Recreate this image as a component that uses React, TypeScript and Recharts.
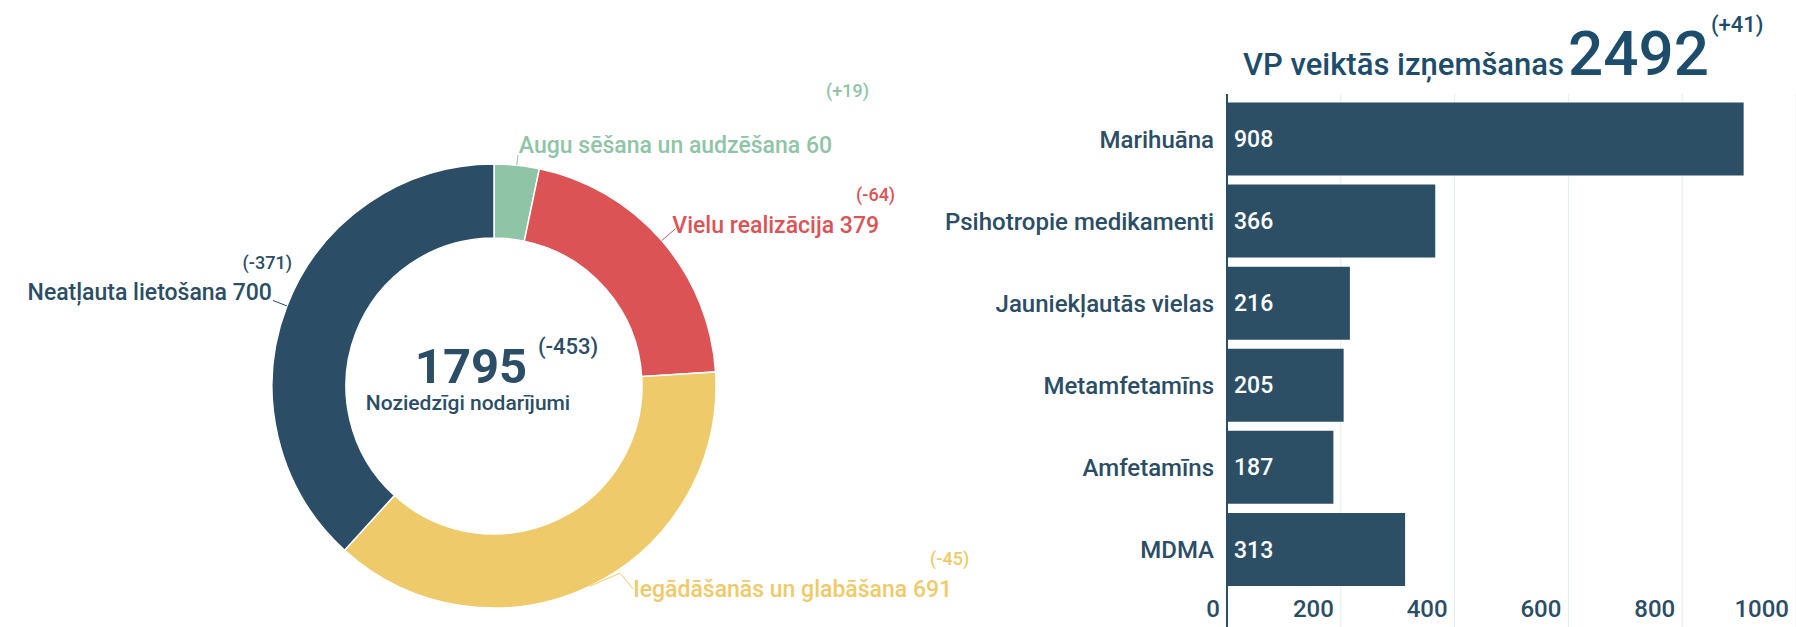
import { PieChart, Pie, Cell, BarChart, Bar, XAxis, YAxis, CartesianGrid, LabelList } from 'recharts';

const FONT = 'Roboto, sans-serif';
const NAVY = '#2b4d65';
const TITLE_BLUE = '#1e4d6b';
const RADIAN = Math.PI / 180;

// donut: offence types, clockwise from the top
const pieNames = ['Augu sēšana un audzēšana', 'Vielu realizācija', 'Iegādāšanās un glabāšana', 'Neatļauta lietošana'];
const pieValues = [60, 379, 691, 700];
const pieChanges = ['(+19)', '(-64)', '(-45)', '(-371)'];
const pieColors = ['#8fc4a6', '#dc5356', '#efca6a', NAVY];
const pieTotal = '1795';
const pieTotalChange = '(-453)';
const pieCaption = 'Noziedzīgi nodarījumi';

// bars: seizures by substance
const barNames = ['Marihuāna', 'Psihotropie medikamenti', 'Jauniekļautās vielas', 'Metamfetamīns', 'Amfetamīns', 'MDMA'];
const barValues = [908, 366, 216, 205, 187, 313];
const xTicks = [0, 200, 400, 600, 800, 1000];
const barTitle = 'VP veiktās izņemšanas';
const barTotal = '2492';
const barTotalChange = '(+41)';

const pieData = pieNames.map((name, i) => ({ name, value: pieValues[i] }));
const barData = barNames.map((name, i) => ({ name, value: barValues[i] }));

// label placement around the donut (radial extension + text nudges)
const LABEL_LAYOUT = [
  { ext: 10, tx: 1, ty: -2, ddx: -6, ddy: -56, kink: false },
  { ext: 18, tx: -3, ty: 4, ddx: -23, ddy: -32, kink: false },
  { ext: 0, tx: 43, ty: 11, ddx: -22, ddy: -32, kink: true },
  { ext: 15, tx: -1, ty: 0, ddx: 20, ddy: -31, kink: false },
];

function PieLabel(props: any) {
  const { cx, cy, midAngle, outerRadius, index } = props;
  const lay = LABEL_LAYOUT[index];
  const cos = Math.cos(-midAngle * RADIAN);
  const sin = Math.sin(-midAngle * RADIAN);
  const x0 = cx + outerRadius * cos;
  const y0 = cy + outerRadius * sin;
  const x1 = cx + (outerRadius + lay.ext) * cos;
  const y1 = cy + (outerRadius + lay.ext) * sin;
  const color = pieColors[index];
  const tx = x1 + lay.tx;
  const ty = y1 + lay.ty;
  const right = cos >= 0;
  const pts = lay.kink
    ? `${x0},${y0} ${x0 + 30},${y0 - 13} ${x0 + 43},${y0 + 3}`
    : `${x0},${y0} ${x1},${y1}`;
  const label = `${pieNames[index]} ${pieValues[index]}`;

  return (
    <g>
      <polyline points={pts} fill="none" stroke={color} strokeWidth={1} />
      {right ? (
        <text x={tx} y={ty} fill={color} fontSize={23} fontWeight={500} fontFamily={FONT} textAnchor="start">
          {label}
          <tspan dx={lay.ddx} dy={lay.ddy} fontSize={18}>{pieChanges[index]}</tspan>
        </text>
      ) : (
        <>
          <text x={tx} y={ty} fill={color} fontSize={23} fontWeight={500} fontFamily={FONT} textAnchor="end">
            {label}
          </text>
          <text x={tx + lay.ddx} y={ty + lay.ddy} fill={color} fontSize={18} fontWeight={500} fontFamily={FONT} textAnchor="end">
            {pieChanges[index]}
          </text>
        </>
      )}
    </g>
  );
}

function YTick(props: any) {
  const { x, y, payload } = props;
  return (
    <text x={x - 5} y={y + 9} textAnchor="end" fill={NAVY} fontSize={24} fontWeight={500} fontFamily={FONT}>
      {payload.value}
    </text>
  );
}

function XTick(props: any) {
  const { x, y, payload } = props;
  return (
    <text x={x - 7} y={y - 2} textAnchor="end" fill={NAVY} fontSize={24} fontWeight={500} fontFamily={FONT}>
      {payload.value}
    </text>
  );
}

export default function App() {
  const cx = 489;
  const cy = 381;
  return (
    <div style={{ position: 'relative', width: 1796, height: 627, overflow: 'hidden', background: '#fff', fontFamily: FONT }}>
      <style>{'body{margin:0}'}</style>

      <div style={{ position: 'absolute', left: 0, top: 0 }}>
        <PieChart width={1000} height={627}>
          <Pie
            data={pieData}
            dataKey="value"
            nameKey="name"
            cx={cx}
            cy={cy}
            innerRadius={148}
            outerRadius={222}
            startAngle={90}
            endAngle={-270}
            stroke="#ffffff"
            strokeWidth={1.5}
            label={PieLabel}
            labelLine={false}
            isAnimationActive={false}
          >
            {pieData.map((d, i) => (
              <Cell key={d.name} fill={pieColors[i]} />
            ))}
          </Pie>
        </PieChart>
      </div>

      <div style={{ position: 'absolute', left: 900, top: 0 }}>
        <BarChart
          width={896}
          height={627}
          data={barData}
          layout="vertical"
          margin={{ top: 94, right: 0, bottom: 0, left: 0 }}
        >
          <CartesianGrid horizontal={false} stroke="#e4edf0" />
          <XAxis
            type="number"
            domain={[0, 1000]}
            ticks={xTicks}
            height={30}
            mirror
            axisLine={false}
            tickLine={false}
            tick={<XTick />}
            interval={0}
          />
          <YAxis
            type="category"
            dataKey="name"
            width={327}
            padding={{ top: 3.5, bottom: 37 }}
            axisLine={{ stroke: NAVY, strokeWidth: 2 }}
            tickLine={false}
            tick={<YTick />}
            interval={0}
          />
          <Bar dataKey="value" fill="#2c4f66" barSize={73} isAnimationActive={false}>
            <LabelList
              dataKey="value"
              position="insideLeft"
              offset={7}
              fill="#ffffff"
              fontSize={23}
              fontWeight={500}
              fontFamily={FONT}
            />
          </Bar>
        </BarChart>
      </div>

      <svg width={1796} height={627} style={{ position: 'absolute', left: 0, top: 0, pointerEvents: 'none' }}>
        <text x={cx - 18} y={383} textAnchor="middle" fill={NAVY} fontSize={49} fontWeight={700} fontFamily={FONT}>
          {pieTotal}
        </text>
        <text x={538} y={354} fill={NAVY} fontSize={22} fontWeight={500} fontFamily={FONT}>
          {pieTotalChange}
        </text>
        <text x={cx - 21} y={410} textAnchor="middle" fill={NAVY} fontSize={21} fontWeight={500} fontFamily={FONT}>
          {pieCaption}
        </text>

        <text x={1243} y={75} fill={TITLE_BLUE} fontSize={31} fontWeight={500} fontFamily={FONT}>
          {barTitle}
          <tspan dx={4} fontSize={62} fontWeight={500}>{barTotal}</tspan>
          <tspan dx={2} dy={-43} fontSize={22} fontWeight={500}>{barTotalChange}</tspan>
        </text>
      </svg>
    </div>
  );
}
